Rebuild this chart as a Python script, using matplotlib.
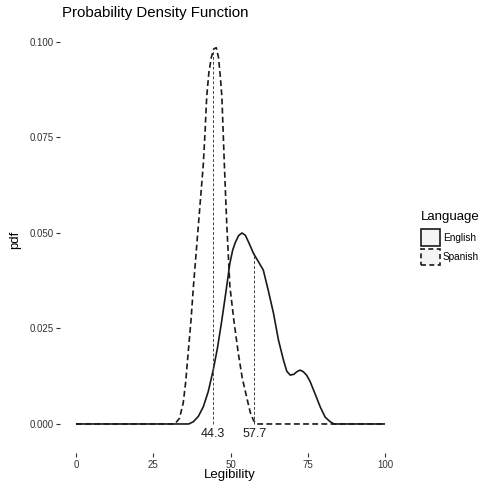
"""Probability density of legibility scores, English vs Spanish."""

import matplotlib

matplotlib.use("Agg")
import matplotlib.pyplot as plt  # noqa: E402
from matplotlib.patches import Rectangle  # noqa: E402

plt.rcParams["font.family"] = ["Liberation Sans", "DejaVu Sans"]

INK = "#1a1a1a"
KEY_FILL = "#f4f4f4"

# density curves
english_x = [0, 36.5, 38.0, 39.6, 41.2, 42.8, 44.4, 45.8, 47.2, 48.5, 49.8, 50.7,
             51.5, 52.6, 53.7, 54.8, 55.9, 57.4, 59.0, 60.6, 62.2, 63.9, 65.5,
             67.1, 68.2, 69.3, 70.5, 71.5, 72.5, 73.5, 74.6, 75.7, 77.3, 79.0,
             80.6, 82.2, 83.5, 100]
english_y = [0, 0, 0.0006, 0.0020, 0.0045, 0.0085, 0.0141, 0.0200, 0.0272, 0.0345,
             0.0421, 0.0455, 0.0474, 0.0493, 0.0500, 0.0494, 0.0475, 0.0447, 0.0425,
             0.0403, 0.0350, 0.0290, 0.0220, 0.0168, 0.0138, 0.0128, 0.0130, 0.0137,
             0.0141, 0.0137, 0.0128, 0.0112, 0.0080, 0.0045, 0.0018, 0.0006, 0, 0]

spanish_x = [0, 32.0, 33.5, 34.7, 35.5, 36.3, 37.2, 38.0, 38.8, 39.6, 40.4, 41.2,
             41.8, 42.3, 43.0, 43.8, 44.6, 45.4, 46.1, 46.7, 47.2, 47.6, 48.0,
             48.4, 48.8, 49.3, 49.8, 51.1, 52.5, 53.8, 55.2, 56.4, 57.4, 58.3, 100]
spanish_y = [0, 0, 0.0015, 0.0055, 0.0110, 0.0186, 0.0270, 0.0360, 0.0440, 0.0520,
             0.0600, 0.0680, 0.0770, 0.0857, 0.0920, 0.0960, 0.0982, 0.0985, 0.0960,
             0.0910, 0.0857, 0.0770, 0.0680, 0.0600, 0.0520, 0.0440, 0.0360, 0.0270,
             0.0186, 0.0120, 0.0071, 0.0030, 0.0010, 0, 0]

means = [44.3, 57.7]
mean_heights = [0.0982, 0.0447]
mean_labels = ["44.3", "57.7"]

x_ticks = [0, 25, 50, 75, 100]
y_ticks = [0.000, 0.025, 0.050, 0.075, 0.100]
y_tick_labels = ["0.000", "0.025", "0.050", "0.075", "0.100"]

fig = plt.figure(figsize=(4.82, 4.88), dpi=100)
fig.patch.set_facecolor("white")
ax = fig.add_axes([0.1255, 0.0721, 0.7055, 0.8693])

ax.plot(english_x, english_y, color=INK, lw=1.2, solid_capstyle="butt")
ax.plot(spanish_x, spanish_y, color=INK, lw=1.2, linestyle=(0, (3.5, 2)))

for m, h, lab in zip(means, mean_heights, mean_labels):
    ax.plot([m, m], [0, h], color="#444444", lw=0.7, linestyle=(0, (3, 2)))
    ax.text(m, -0.0025, lab, ha="center", va="center", fontsize=9, color=INK)

ax.set_xlim(-5, 105)
ax.set_ylim(-0.00755, 0.1035)
ax.set_xticks(x_ticks)
ax.set_xticklabels([str(t) for t in x_ticks])
ax.set_yticks(y_ticks)
ax.set_yticklabels(y_tick_labels)
ax.tick_params(length=3, width=0.8, color="#333333", labelsize=7,
               labelcolor="#333333", pad=2)
for s in ax.spines.values():
    s.set_visible(False)

fig.text(0.1286, 0.9734, "Probability Density Function", ha="left", va="center",
         fontsize=10.8, color="black")
fig.text(0.477, 0.0266, "Legibility", ha="center", va="center", fontsize=9.5)
fig.text(0.031, 0.508, "pdf", ha="center", va="center", fontsize=9.5, rotation=90)

# legend drawn by hand so it can run off the right edge like the original
H = 488.0
W = 482.0
fig.text(420.7 / W, 1 - 216.7 / H, "Language", ha="left", va="center", fontsize=9.5)
keys = [("English", "-", 229.5), ("Spanish", (0, (3, 2)), 248.5)]
for name, ls, top in keys:
    fig.add_artist(Rectangle((421 / W, 1 - (top + 16.5) / H), 18.5 / W, 16.5 / H,
                             transform=fig.transFigure, facecolor=KEY_FILL,
                             edgecolor=INK, lw=1.2, linestyle=ls))
    fig.text(442.7 / W, 1 - (top + 8.2) / H, name, ha="left", va="center", fontsize=7.2)

fig.savefig("out.png", dpi=100, facecolor="white")
